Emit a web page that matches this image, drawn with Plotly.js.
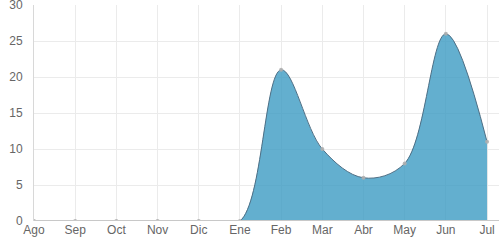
<!DOCTYPE html>
<html><head><meta charset="utf-8">
<script src="https://cdn.plot.ly/plotly-3.0.1.min.js"></script>
<style>html,body{margin:0;padding:0;background:#fff}#c{width:499px;height:249px}</style>
</head><body><div id="c"></div>
<script>
const months = ["Ago","Sep","Oct","Nov","Dic","Ene","Feb","Mar","Abr","May","Jun","Jul"];
const values = [0,0,0,0,0,0,21,10,6,8,26,11];
const yTicks = [0,5,10,15,20,25,30];

Plotly.newPlot('c', [{
  x: months.map((m,i)=>i),
  y: values,
  type: 'scatter',
  mode: 'lines+markers',
  line: {shape: 'spline', smoothing: 1, color: '#4f6f85', width: 1},
  marker: {size: 4, color: 'rgba(175,175,175,0.9)'},
  fill: 'tozeroy',
  fillcolor: 'rgba(60,155,195,0.8)',
  hoverinfo: 'skip'
}], {
  width: 499, height: 249,
  margin: {l: 34, r: 0, t: 5, b: 28},
  paper_bgcolor: '#fff', plot_bgcolor: '#fff',
  showlegend: false,
  font: {family: 'Liberation Sans, Arial, sans-serif', size: 12, color: '#666'},
  shapes: [{type: 'line', xref: 'paper', x0: 0, x1: 1, yref: 'y', y0: 0, y1: 0,
            line: {color: '#c8c8c8', width: 2}, layer: 'above'}],
  xaxis: {
    range: [0, 11.29], tickmode: 'array',
    tickvals: months.map((m,i)=>i), ticktext: months,
    showgrid: true, gridcolor: '#ebebeb', gridwidth: 1,
    zeroline: false, showline: false,
    ticks: '', tickfont: {size: 12, color: '#666'}
  },
  yaxis: {
    range: [0, 30], tickmode: 'array', tickvals: yTicks,
    showgrid: true, gridcolor: '#ebebeb', gridwidth: 1,
    zeroline: false, showline: true, linecolor: '#d8d8d8', linewidth: 1,
    ticks: '', ticklabelstandoff: 8, ticklabeloverflow: 'allow',
    tickfont: {size: 12, color: '#666'}
  }
}, {displayModeBar: false, staticPlot: true});
</script></body></html>
